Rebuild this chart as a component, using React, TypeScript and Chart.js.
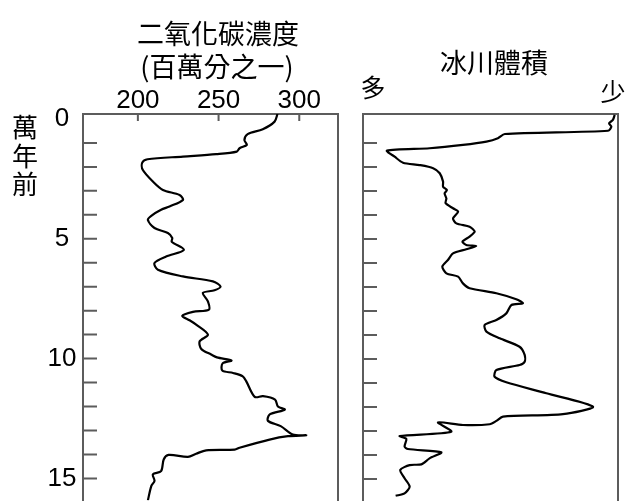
import React, { useEffect, useRef } from "react";
import { Chart, registerables } from "chart.js";

Chart.register(...registerables);

// ---- data ----
// age in units of 10,000 years ago
const co2Age = [
  -0.21, 0.11, 0.43, 0.63, 0.88, 1.08, 1.22, 1.36, 1.47, 1.57, 1.68, 1.82, 2.12, 2.61, 2.96, 3.17,
  3.38, 3.65, 3.79, 4.04, 4.21, 4.55, 4.76, 4.97, 5.12, 5.46, 5.74, 6.01, 6.29, 6.57, 6.78, 6.99,
  7.15, 7.26, 7.61, 7.96, 8.05, 8.22, 8.4, 8.58, 9.0, 9.28, 9.6, 9.83, 9.95, 10.08, 10.2, 10.5,
  10.6, 10.74, 10.94, 11.6, 11.57, 11.71, 12.0, 12.13, 12.33, 12.6, 12.82, 13.17, 13.2, 13.24,
  13.38, 13.72, 13.8, 13.83, 13.97, 14.1, 14.02, 14.21, 14.7, 14.83, 15.1, 15.32, 15.92,
];
// CO2 concentration, ppm
const co2Ppm = [
  286.5, 284.7, 277.4, 268, 266, 267.5, 263, 261.3, 248.5, 227.9, 206, 202.7, 203, 209.3, 215.5, 225.8,
  227.9, 219.6, 214.4, 208.3, 206.2, 210.3, 218.6, 221.3, 221, 228.5, 217.5, 210.3, 212.4, 227.9, 246.5, 251.2,
  247.5, 240.3, 243.4, 244, 234.1, 227.5, 232, 236.1, 243.4, 238.3, 239.3, 245.4, 249, 258, 252.5, 252.3,
  259, 265, 267.1, 272.4, 277.5, 285, 286.8, 291, 281.7, 280.6, 288.5, 296, 304.3, 293,
  281.6, 263, 260, 242.3, 236.1, 231, 219, 216, 214.4, 209.3, 210.3, 208.3, 206.2,
];

const iceAge = [
  -0.17, 0.04, 0.18, 0.32, 0.49, 0.625, 0.8, 0.94, 1.08, 1.22, 1.32, 1.57, 1.82, 1.92, 2.05, 2.26,
  2.61, 2.82, 2.96, 3.1, 3.31, 3.51, 3.72, 3.86, 4.14, 4.35, 4.49, 4.69, 4.9, 5.11, 5.25, 5.29,
  5.43, 5.6, 5.875, 6.15, 6.43, 6.57, 6.85, 7.05, 7.26, 7.51, 7.68, 7.75, 8.1, 8.375, 8.58, 8.86,
  9.14, 9.49, 9.83, 10.11, 10.25, 10.46, 10.74, 10.97, 11.43, 11.99, 12.3, 12.4, 12.58, 12.72,
  12.75, 12.64, 13.03, 13.21, 13.33, 13.65, 13.75, 13.89, 14.14, 14.39, 14.42, 14.625, 14.97,
  15.32, 15.6, 15.7,
];
// relative glacier volume (100 = most, 0 = least)
const iceVolume = [
  1.3, 2.0, 3.5, 2.6, 3.9, 44.4, 47.1, 51.6, 60.8, 73.9, 90.6, 87.6, 84.3, 77.8, 72.5, 69.9,
  68.6, 68.6, 67.1, 68.0, 67.3, 67.6, 64.7, 62.7, 64.7, 63.4, 58.2, 56.2, 58.2, 61.0, 59.5, 55.6,
  59.5, 64.7, 66.7, 68.9, 67.3, 62.7, 60.8, 58.2, 47.7, 39.9, 37.3, 41.8, 43.8, 47.7, 52.3, 51.6,
  46.4, 38.6, 36.6, 36.6, 38.6, 47.7, 48.4, 43.8, 28.1, 9.8, 21.6, 45.1, 47.7, 50.3,
  60.8, 70.6, 65.4, 85.6, 83.0, 83.7, 82.4, 69.3, 73.9, 77.1, 81.7, 85.4, 83.7,
  81.7, 83.7, 87.2,
];

const co2TickValues = [200, 250, 300];
const ageTickValues = [0, 1, 2, 3, 4, 5, 6, 7, 8, 9, 10, 11, 12, 13, 14, 15];
const ageLabelStep = 5;

const co2Title = ["二氧化碳濃度", "(百萬分之一)"];
const ageTitle = ["萬", "年", "前"];
const iceTitle = "冰川體積";
const iceMoreLabel = "多";
const iceLessLabel = "少";

// ---- styling ----
const CJK = '"Noto Sans CJK TC", "Noto Sans CJK SC", sans-serif';
const NUM = '"Liberation Sans", Arial, sans-serif';
const FRAME = "#5c5c5c";
const AGE_MIN = -0.208;
const AGE_MAX = 15.917;

type TextItem = { text: string; x: number; y: number; size: number; family: string };

function framePlugin(xTicks: number[]) {
  return {
    id: "frame",
    beforeDatasetsDraw(chart: any) {
      const { ctx, chartArea: a, scales } = chart;
      ctx.save();
      ctx.strokeStyle = FRAME;
      ctx.lineWidth = 2;
      ctx.beginPath();
      ctx.moveTo(a.left, a.bottom + 4);
      ctx.lineTo(a.left, a.top);
      ctx.lineTo(a.right, a.top);
      ctx.lineTo(a.right, a.bottom + 4);
      for (const v of ageTickValues) {
        if (v === 0) continue;
        const y = scales.y.getPixelForValue(v);
        ctx.moveTo(a.left, y);
        ctx.lineTo(a.left + 14, y);
      }
      for (const v of xTicks) {
        const x = scales.x.getPixelForValue(v);
        ctx.moveTo(x, a.top);
        ctx.lineTo(x, a.top + 7);
      }
      ctx.stroke();
      ctx.restore();
    },
  };
}

function textPlugin(items: TextItem[]) {
  return {
    id: "texts",
    afterDraw(chart: any) {
      const { ctx } = chart;
      ctx.save();
      ctx.fillStyle = "#000";
      ctx.textAlign = "center";
      ctx.textBaseline = "middle";
      for (const it of items) {
        ctx.font = `${it.size}px ${it.family}`;
        ctx.fillText(it.text, it.x, it.y);
      }
      ctx.restore();
    },
  };
}

function LeftChart() {
  const ref = useRef<HTMLCanvasElement>(null);
  useEffect(() => {
    const chart = new Chart(ref.current!, {
      type: "scatter",
      data: {
        datasets: [
          {
            data: co2Age.map((a, i) => ({ x: co2Ppm[i], y: a })),
            showLine: true,
            borderColor: "#000",
            borderWidth: 2.2,
            pointRadius: 0,
            tension: 0.3,
          } as any,
        ],
      },
      options: {
        animation: false,
        responsive: false,
        maintainAspectRatio: false,
        events: [],
        layout: { padding: { left: 0, right: 7, top: 0, bottom: 0 } },
        plugins: { legend: { display: false }, tooltip: { enabled: false } },
        scales: {
          x: {
            type: "linear",
            position: "top",
            min: 166,
            max: 324,
            afterFit: (s: any) => {
              s.height = 114;
            },
            afterBuildTicks: (s: any) => {
              s.ticks = co2TickValues.map((v) => ({ value: v }));
            },
            grid: { display: false, drawTicks: false },
            border: { display: false },
            ticks: {
              padding: 0,
              color: "#000",
              maxRotation: 0,
              autoSkip: false,
              font: { family: NUM, size: 26, lineHeight: 1 },
            },
          },
          y: {
            type: "linear",
            position: "left",
            reverse: true,
            min: AGE_MIN,
            max: AGE_MAX,
            afterFit: (s: any) => {
              s.width = 83;
            },
            afterBuildTicks: (s: any) => {
              s.ticks = ageTickValues.map((v) => ({ value: v }));
            },
            grid: { display: false, drawTicks: true, tickLength: 6.5 },
            border: { display: false },
            ticks: {
              crossAlign: "center",
              padding: 0,
              color: "#000",
              autoSkip: false,
              font: { family: NUM, size: 26, lineHeight: 0.05 },
              callback: (v: any) => (Number(v) % ageLabelStep === 0 ? String(v) : ""),
            },
          },
        },
      },
      plugins: [
        framePlugin(co2TickValues),
        textPlugin([
          { text: co2Title[0], x: 218, y: 34, size: 27, family: CJK },
          { text: co2Title[1], x: 217, y: 67, size: 27, family: CJK },
          { text: ageTitle[0], x: 25, y: 127, size: 26, family: CJK },
          { text: ageTitle[1], x: 25, y: 156, size: 26, family: CJK },
          { text: ageTitle[2], x: 25, y: 184, size: 26, family: CJK },
        ]),
      ],
    } as any);
    return () => chart.destroy();
  }, []);
  return (
    <canvas
      ref={ref}
      width={345}
      height={501}
      style={{ position: "absolute", left: 0, top: 0, width: 345, height: 501, display: "block" }}
    />
  );
}

function RightChart() {
  const ref = useRef<HTMLCanvasElement>(null);
  useEffect(() => {
    const chart = new Chart(ref.current!, {
      type: "scatter",
      data: {
        datasets: [
          {
            data: iceAge.map((a, i) => ({ x: iceVolume[i], y: a })),
            showLine: true,
            borderColor: "#000",
            borderWidth: 2.2,
            pointRadius: 0,
            tension: 0.25,
          } as any,
        ],
      },
      options: {
        animation: false,
        responsive: false,
        maintainAspectRatio: false,
        events: [],
        layout: { padding: { left: 0, right: 11, top: 0, bottom: 0 } },
        plugins: { legend: { display: false }, tooltip: { enabled: false } },
        scales: {
          x: {
            type: "linear",
            position: "top",
            reverse: true,
            min: 0,
            max: 100,
            afterFit: (s: any) => {
              s.height = 114;
            },
            grid: { display: false, drawTicks: false },
            border: { display: false },
            ticks: { display: false },
          },
          y: {
            type: "linear",
            position: "left",
            reverse: true,
            min: AGE_MIN,
            max: AGE_MAX,
            afterFit: (s: any) => {
              s.width = 18;
            },
            grid: { display: false, drawTicks: false },
            border: { display: false },
            ticks: { display: false },
          },
        },
      },
      plugins: [
        framePlugin([]),
        textPlugin([
          { text: iceTitle, x: 149, y: 63, size: 27, family: CJK },
          { text: iceMoreLabel, x: 28, y: 87, size: 25, family: CJK },
          { text: iceLessLabel, x: 268, y: 91, size: 25, family: CJK },
        ]),
      ],
    } as any);
    return () => chart.destroy();
  }, []);
  return (
    <canvas
      ref={ref}
      width={284}
      height={501}
      style={{ position: "absolute", left: 345, top: 0, width: 284, height: 501, display: "block" }}
    />
  );
}

export default function App() {
  return (
    <div
      style={{
        position: "absolute",
        left: 0,
        top: 0,
        width: 629,
        height: 501,
        overflow: "hidden",
        background: "#fff",
      }}
    >
      <LeftChart />
      <RightChart />
    </div>
  );
}
